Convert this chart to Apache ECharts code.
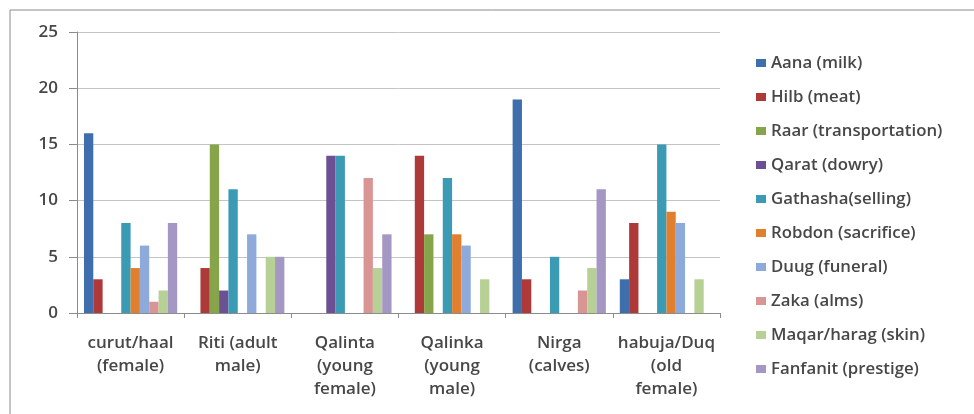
<!DOCTYPE html>
<html>
<head>
<meta charset="utf-8">
<script src="https://cdn.jsdelivr.net/npm/echarts@6/dist/echarts.min.js"></script>
<style>
  html, body { margin: 0; padding: 0; background: #ffffff; }
  #chart { width: 974px; height: 414px; }
</style>
</head>
<body>
<div id="chart"></div>
<script>
// Cattle categories (x axis)
const categories = [
  'curut/haal\n(female)',
  'Riti (adult\nmale)',
  'Qalinta\n(young\nfemale)',
  'Qalinka\n(young\nmale)',
  'Nirga\n(calves)',
  'habuja/Duq\n(old\nfemale)'
];

// Uses of each category, one array per use
const aana     = [16, 0, 0, 0, 19, 3];
const hilb     = [3, 4, 0, 14, 3, 8];
const raar     = [0, 15, 0, 7, 0, 0];
const qarat    = [0, 2, 14, 0, 0, 0];
const gathasha = [8, 11, 14, 12, 5, 15];
const robdon   = [4, 0, 0, 7, 0, 9];
const duug     = [6, 7, 0, 6, 0, 8];
const zaka     = [1, 0, 12, 0, 2, 0];
const maqar    = [2, 5, 4, 3, 4, 3];
const fanfanit = [8, 5, 7, 0, 11, 0];

const seriesNames = [
  'Aana (milk)', 'Hilb (meat)', 'Raar (transportation)', 'Qarat (dowry)',
  'Gathasha(selling)', 'Robdon (sacrifice)', 'Duug (funeral)', 'Zaka (alms)',
  'Maqar/harag (skin)', 'Fanfanit (prestige)'
];
const seriesData = [aana, hilb, raar, qarat, gathasha, robdon, duug, zaka, maqar, fanfanit];
const palette = ['#3f6ead', '#ad3a38', '#86a44a', '#6b5193', '#3b9ab4',
                 '#e07f2e', '#8eaadb', '#d99594', '#b6d095', '#a597c4'];

const fontFamily = '"Open Sans", Lato, sans-serif';
const textColor = '#474747';

const chart = echarts.init(document.getElementById('chart'));
chart.setOption({
  animation: false,
  backgroundColor: '#ffffff',
  color: palette,
  graphic: [{
    type: 'rect',
    shape: { x: 10, y: 10, width: 970, height: 420 },
    style: { fill: 'none', stroke: '#8a8a8a', lineWidth: 1 },
    silent: true
  }],
  grid: { left: 77, right: 254, top: 32, bottom: 101 },
  legend: {
    orient: 'vertical',
    left: 751,
    top: 47,
    itemWidth: 10,
    itemHeight: 8,
    itemGap: 12,
    icon: 'rect',
    textStyle: {
      fontFamily: fontFamily, fontSize: 16.8, fontWeight: 600, color: textColor,
      lineHeight: 22, padding: [0, 0, 0, 0]
    },
    data: seriesNames
  },
  xAxis: {
    type: 'category',
    data: categories,
    axisLine: { lineStyle: { color: '#8c8c8c' } },
    axisTick: { show: true, length: 5, lineStyle: { color: '#8c8c8c' } },
    axisLabel: {
      fontFamily: fontFamily, fontSize: 17, fontWeight: 600, color: textColor,
      lineHeight: 23, margin: 19, interval: 0
    }
  },
  yAxis: {
    type: 'value',
    min: 0, max: 25, interval: 5,
    axisLine: { show: true, lineStyle: { color: '#8c8c8c' } },
    axisTick: { show: true, length: 8, lineStyle: { color: '#8c8c8c' } },
    axisLabel: { fontFamily: fontFamily, fontSize: 17, fontWeight: 600, color: textColor, margin: 19 },
    splitLine: { lineStyle: { color: '#c4c4c4' } }
  },
  series: seriesNames.map((name, i) => ({
    name: name,
    type: 'bar',
    data: seriesData[i],
    barGap: '0%',
    barCategoryGap: '13%'
  }))
});
</script>
</body>
</html>
